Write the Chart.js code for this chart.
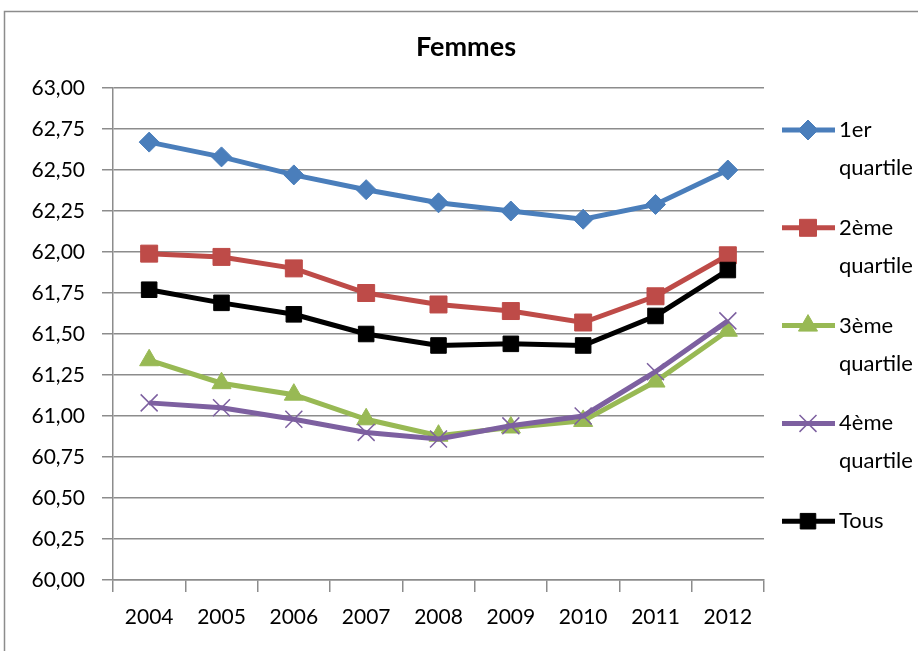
<!DOCTYPE html>
<html lang="fr">
<head>
<meta charset="utf-8">
<title>Femmes</title>
<script src="https://cdn.jsdelivr.net/npm/chart.js@4/dist/chart.umd.min.js"></script>
<style>
    html, body { margin: 0; padding: 0; background: #ffffff; }
    canvas { display: block; }
</style>
</head>
<body>
<canvas id="femmesChart" width="918" height="651"></canvas>
<script>
// Données
const annees = ['2004', '2005', '2006', '2007', '2008', '2009', '2010', '2011', '2012'];
const quartile1 = [62.67, 62.58, 62.47, 62.38, 62.30, 62.25, 62.20, 62.29, 62.50];
const quartile2 = [61.99, 61.97, 61.90, 61.75, 61.68, 61.64, 61.57, 61.73, 61.98];
const quartile3 = [61.34, 61.20, 61.13, 60.98, 60.88, 60.93, 60.97, 61.21, 61.52];
const quartile4 = [61.08, 61.05, 60.98, 60.90, 60.86, 60.94, 61.00, 61.27, 61.58];
const tous = [61.77, 61.69, 61.62, 61.50, 61.43, 61.44, 61.43, 61.61, 61.89];
const nomsSeries = ['1er quartile', '2ème quartile', '3ème quartile', '4ème quartile', 'Tous'];
const axeYMin = 60;
const axeYMax = 63;
const axeYPas = 0.25;

const POLICE = 'Lato, "Open Sans", sans-serif';
const GRIS = '#8c8c8c';

// Légende dessinée à droite, avec retour à la ligne comme dans Excel
const legendeDroite = {
    id: 'legendeDroite',
    afterDraw(chart) {
        const c = chart.ctx;
        c.save();
        chart.data.datasets.forEach(function (ds, i) {
            const y = 130 + i * 97.8;
            c.strokeStyle = ds.borderColor;
            c.lineWidth = ds.borderWidth;
            c.beginPath();
            c.moveTo(782, y);
            c.lineTo(835, y);
            c.stroke();
            c.fillStyle = ds.pointBackgroundColor;
            c.strokeStyle = ds.pointBorderColor;
            c.lineWidth = ds.pointBorderWidth;
            Chart.helpers.drawPoint(c, {
                pointStyle: ds.pointStyle,
                rotation: 0,
                radius: ds.pointRadius,
                borderWidth: ds.pointBorderWidth
            }, 808, y);
            c.fillStyle = '#000000';
            c.font = '22px ' + POLICE;
            c.textAlign = 'left';
            c.textBaseline = 'middle';
            ds.label.split(' ').forEach(function (ligne, j) {
                c.fillText(ligne, 839, y + j * 38);
            });
        });
        c.restore();
    }
};

// Titre et cadre extérieur
const titreEtCadre = {
    id: 'titreEtCadre',
    afterDraw(chart) {
        const c = chart.ctx;
        c.save();
        c.strokeStyle = GRIS;
        c.lineWidth = 1.5;
        c.beginPath();
        c.moveTo(4.5, chart.height);
        c.lineTo(4.5, 11.5);
        c.lineTo(chart.width, 11.5);
        c.stroke();
        c.fillStyle = '#000000';
        c.font = 'bold 27px ' + POLICE;
        c.textAlign = 'center';
        c.textBaseline = 'middle';
        c.fillText('Femmes', 466, 47);
        c.restore();
    }
};

function serie(label, data, couleur, style, rayon, ordre) {
    return {
        label: label,
        data: data,
        borderColor: couleur,
        backgroundColor: couleur,
        borderWidth: 5,
        pointStyle: style,
        pointRadius: rayon,
        pointHoverRadius: rayon,
        pointBackgroundColor: couleur,
        pointBorderColor: couleur,
        pointBorderWidth: style === 'crossRot' ? 1.5 : 1,
        tension: 0,
        order: ordre
    };
}

document.addEventListener('DOMContentLoaded', function initFemmesChart() {
    const ctx = document.getElementById('femmesChart').getContext('2d');
    new Chart(ctx, {
        type: 'line',
        data: {
            labels: annees,
            datasets: [
                serie(nomsSeries[0], quartile1, '#4a7ebb', 'rectRot', 10, 4),
                serie(nomsSeries[1], quartile2, '#be4b48', 'rect', 12, 3),
                serie(nomsSeries[2], quartile3, '#98b954', 'triangle', 11, 2),
                serie(nomsSeries[3], quartile4, '#7d60a0', 'crossRot', 12, 1),
                serie(nomsSeries[4], tous, '#000000', 'rect', 11, 0)
            ]
        },
        options: {
            responsive: false,
            animation: false,
            layout: {
                padding: { left: 0, right: 154, top: 88, bottom: 21 }
            },
            plugins: {
                legend: { display: false },
                title: { display: false },
                tooltip: { enabled: false }
            },
            scales: {
                x: {
                    offset: true,
                    afterFit: function (s) { s.height = 50; },
                    grid: {
                        offset: true,
                        drawOnChartArea: false,
                        drawTicks: true,
                        tickLength: 12,
                        color: GRIS,
                        lineWidth: 1.5
                    },
                    border: { display: true, color: GRIS, width: 1.5 },
                    ticks: {
                        color: '#000000',
                        padding: 13,
                        maxRotation: 0,
                        font: { family: POLICE, size: 21 }
                    }
                },
                y: {
                    min: axeYMin,
                    max: axeYMax,
                    afterFit: function (s) { s.width = 113; },
                    grid: {
                        drawTicks: true,
                        tickLength: 11,
                        color: GRIS,
                        lineWidth: 1.5
                    },
                    border: { display: true, color: GRIS, width: 1.5 },
                    ticks: {
                        stepSize: axeYPas,
                        color: '#000000',
                        padding: 17,
                        font: { family: POLICE, size: 21 },
                        callback: function (v) { return v.toFixed(2).replace('.', ','); }
                    }
                }
            }
        },
        plugins: [titreEtCadre, legendeDroite]
    });
});
</script>
</body>
</html>
